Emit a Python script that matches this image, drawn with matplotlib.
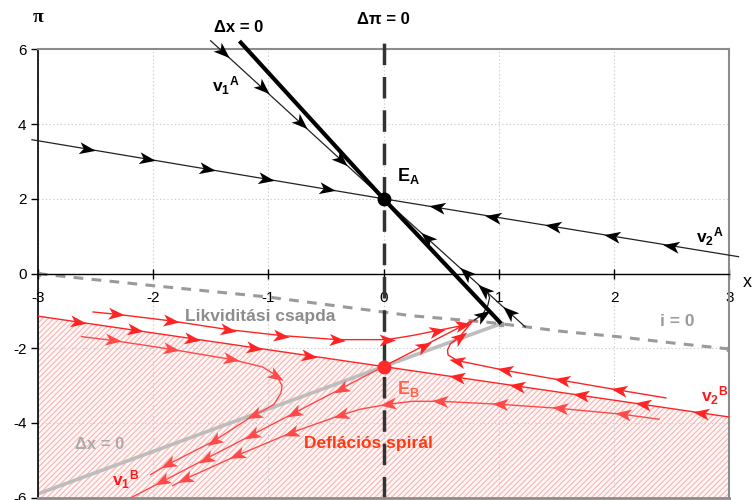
import numpy as np
import matplotlib
matplotlib.use("Agg")
import matplotlib.pyplot as plt
from matplotlib.path import Path
from matplotlib.markers import MarkerStyle
from matplotlib.transforms import Affine2D

plt.rcParams["font.family"] = ["Liberation Sans", "DejaVu Sans"]
plt.rcParams["mathtext.fontset"] = "custom"
plt.rcParams["mathtext.rm"] = "Liberation Sans"
plt.rcParams["mathtext.bf"] = "Liberation Sans:bold"
plt.rcParams["mathtext.it"] = "Liberation Sans:italic"
plt.rcParams["lines.scale_dashes"] = False
plt.rcParams["axes.unicode_minus"] = False
plt.rcParams["hatch.linewidth"] = 0.8

# ---- axes ----
x_ticks = [-3, -2, -1, 0, 1, 2, 3]
y_ticks = [-6, -4, -2, 0, 2, 4, 6]

# ---- equilibria ----
EA = (0.0, 2.0)
EB = (0.0, -2.49)

# ---- regime A (normal) ----
dxA_x = [-1.25, 0.0, 1.02]          # Δx = 0 isocline
dxA_y = [6.22, 2.0, -1.34]

v1A_up_x = [-1.50, 0.0]             # stable eigenvector, upper half
v1A_up_y = [6.23, 2.0]
v1A_up_arrows = [(-1.40, 5.92), (-1.05, 4.94), (-0.72, 4.02), (-0.37, 3.04)]
v1A_lo_x = [1.23, 0.0]              # stable eigenvector, lower half
v1A_lo_y = [-1.43, 2.0]
v1A_lo_arrows = [(1.09, -1.02), (0.87, -0.44), (0.71, 0.0), (0.375, 0.96)]

v2A_l_x = [-3.05, 0.0]
v2A_l_y = [3.58, 2.0]
v2A_l_arrows = [(-2.57, 3.34), (-2.05, 3.07), (-1.53, 2.80), (-1.02, 2.53), (-0.49, 2.26)]
v2A_r_x = [3.08, 0.0]
v2A_r_y = [0.45, 2.0]
v2A_r_arrows = [(0.46, 1.77), (0.95, 1.52), (1.47, 1.26), (1.98, 1.00), (2.49, 0.75)]

# trajectory crossing from the trap back into regime A
link_x = [0.79, 0.86, 0.905, 0.92, 0.905, 0.88]
link_y = [-1.24, -1.10, -0.85, -0.65, -0.52, -0.45]
link_arrows = [(0.86, -1.10)]

# ---- i = 0 boundary (liquidity trap) ----
i0_x = [-3.0, -2.86, -2.05, -1.0, -0.10, 0.24, 0.89, 1.22, 1.55, 2.03, 2.51, 3.0]
i0_y = [0.0, -0.05, -0.31, -0.63, -0.99, -1.13, -1.30, -1.42, -1.55, -1.69, -1.86, -2.02]

# ---- regime B (liquidity trap) ----
dxB_x = [-3.0, 0.0, 1.02]
dxB_y = [-5.90, -2.49, -1.34]

v2B_l_x = [-3.0, 0.0]
v2B_l_y = [-1.14, -2.49]
v2B_l_arrows = [(-2.65, -1.30), (-2.16, -1.52), (-1.66, -1.75), (-1.12, -1.99), (-0.645, -2.20)]
v2B_r_x = [3.02, 0.0]
v2B_r_y = [-3.85, -2.49]
v2B_r_arrows = [(0.64, -2.78), (1.16, -3.01), (1.71, -3.26), (2.25, -3.51), (2.75, -3.73)]

v1B_lo_x = [0.0, -2.19]
v1B_lo_y = [-2.49, -6.0]
v1B_lo_arrows = [(-0.37, -3.08), (-0.775, -3.73), (-1.14, -4.31), (-1.54, -4.95), (-1.92, -5.56)]
v1B_up_x = [0.0, 0.76]
v1B_up_y = [-2.49, -1.28]
v1B_up_arrows = [(0.35, -1.93)]

trajA_x = [-2.52, -2.32, -1.84, -1.35, -0.89, -0.40, 0.03, 0.25, 0.46, 0.69, 0.80]
trajA_y = [-1.03, -1.09, -1.27, -1.50, -1.66, -1.77, -1.77, -1.66, -1.53, -1.39, -1.24]
trajA_arrows = [(-2.32, -1.09), (-1.84, -1.27), (-1.35, -1.50), (-0.89, -1.66),
                (-0.40, -1.77), (0.03, -1.77), (0.46, -1.53), (0.69, -1.39)]

trajB_x = [-2.62, -2.35, -1.84, -1.32, -1.05, -0.93, -0.88, -0.89, -0.95, -1.05, -1.12, -1.47, -1.87, -2.02]
trajB_y = [-1.69, -1.79, -2.03, -2.30, -2.50, -2.73, -3.00, -3.20, -3.50, -3.68, -3.78, -4.48, -5.11, -5.38]
trajB_arrows = [(-2.35, -1.79), (-1.84, -2.03), (-1.32, -2.30), (-0.93, -2.73),
                (-1.12, -3.78), (-1.47, -4.48), (-1.87, -5.11)]

trajE_x = [2.45, 2.04, 1.55, 1.05, 0.64, 0.56, 0.555, 0.58, 0.66, 0.77]
trajE_y = [-3.33, -3.12, -2.86, -2.59, -2.33, -2.18, -2.05, -1.88, -1.70, -1.28]
trajE_arrows = [(2.04, -3.12), (1.55, -2.86), (1.05, -2.59), (0.64, -2.33), (0.66, -1.70)]

trajF_x = [2.39, 2.08, 1.53, 1.01, 0.49, 0.25, 0.04, -0.20, -0.37, -0.80, -1.27, -1.72, -1.83]
trajF_y = [-3.90, -3.77, -3.61, -3.50, -3.42, -3.42, -3.50, -3.63, -3.79, -4.26, -4.87, -5.50, -5.68]
trajF_arrows = [(2.08, -3.77), (1.53, -3.61), (1.01, -3.50), (0.49, -3.42), (0.04, -3.50),
                (-0.37, -3.79), (-0.80, -4.26), (-1.27, -4.87), (-1.72, -5.50)]

BLACK = "#000000"
RED = "#ff2424"
RED_SOFT = "#ff4a4a"

fig = plt.figure(figsize=(7.56, 5.0), dpi=100)
ax = fig.add_axes([0.0499, 0.0046, 0.9148, 0.8968])
ax.set_xlim(-3, 3)
ax.set_ylim(-6, 6)
ax.set_xticks(x_ticks)
ax.set_yticks(y_ticks)
ax.set_xticklabels([str(v) for v in x_ticks])
ax.set_yticklabels([str(v) for v in y_ticks])
ax.grid(True, color="#cfcfcf", ls=":", lw=0.8, zorder=0.6)
ax.set_axisbelow(True)

for s in ("top", "right"):
    ax.spines[s].set_color("#8c8c8c")
    ax.spines[s].set_linewidth(1.5)
ax.spines["left"].set_color("black")
ax.spines["left"].set_linewidth(1.2)
ax.spines["bottom"].set_position(("data", 0))
ax.spines["bottom"].set_color("black")
ax.spines["bottom"].set_linewidth(1.0)
ax.axhline(-6, color="#8c8c8c", lw=2.0, clip_on=False, zorder=5)

ax.tick_params(axis="x", direction="inout", length=7, width=1, pad=9, labelsize=11)
ax.tick_params(axis="y", direction="out", length=5, width=1, pad=3, labelsize=11)

# hatched deflation region under v2^B
hx = v2B_l_x + v2B_r_x[::-1][1:]
hy = v2B_l_y + v2B_r_y[::-1][1:]
ax.fill_between(hx, hy, -6, facecolor="#fff6f6", edgecolor="#f8b4b4",
                hatch="//////", linewidth=0, zorder=0.5)

STEALTH = Path([(1.0, 0.0), (-0.95, 0.72), (-0.45, 0.0), (-0.95, -0.72), (1.0, 0.0)],
               [Path.MOVETO, Path.LINETO, Path.LINETO, Path.LINETO, Path.CLOSEPOLY])


def arrows(xs, ys, pts, color, size=12, z=6):
    disp = ax.transData.transform(np.column_stack([xs, ys]))
    inv = ax.transData.inverted()
    for p in pts:
        q = ax.transData.transform(p)
        best = None
        for i in range(len(disp) - 1):
            a, b = disp[i], disp[i + 1]
            ab = b - a
            t = np.clip(np.dot(q - a, ab) / np.dot(ab, ab), 0, 1)
            proj = a + t * ab
            d = np.hypot(*(q - proj))
            if best is None or d < best[0]:
                best = (d, proj, ab)
        _, proj, ab = best
        ang = np.degrees(np.arctan2(ab[1], ab[0]))
        x0, y0 = inv.transform(proj)
        m = MarkerStyle(STEALTH, transform=Affine2D().rotate_deg(ang))
        ax.plot([x0], [y0], marker=m, ms=size, color=color, mew=0, ls="none",
                zorder=z, clip_on=False)


# gray regime-B isocline and i = 0 boundary
ax.plot(dxB_x, dxB_y, color="#bdbdbd", lw=2.6, solid_capstyle="butt", zorder=2)
ax.plot(i0_x, i0_y, color="#9a9a9a", lw=2.2, dashes=(7, 6), zorder=2)
ax.plot([i0_x[0], i0_x[-1], dxB_x[-1]], [i0_y[0], i0_y[-1], dxB_y[-1]], ls="none",
        marker="s", ms=3.5, color="#9a9a9a", zorder=2)

# red trajectories
for xs, ys, pts, col in [
    (v2B_l_x, v2B_l_y, v2B_l_arrows, RED),
    (v2B_r_x, v2B_r_y, v2B_r_arrows, RED),
    (v1B_lo_x, v1B_lo_y, v1B_lo_arrows, RED_SOFT),
    (v1B_up_x, v1B_up_y, v1B_up_arrows, RED),
    (trajA_x, trajA_y, trajA_arrows, RED),
    (trajB_x, trajB_y, trajB_arrows, RED_SOFT),
    (trajE_x, trajE_y, trajE_arrows, RED),
    (trajF_x, trajF_y, trajF_arrows, RED_SOFT),
]:
    ax.plot(xs, ys, color=col, lw=1.0, zorder=3)
    arrows(xs, ys, pts, col)

# Δπ = 0 isocline
ax.plot([0, 0], [-6, 6.36], color="#333333", lw=2.5, dashes=(15.5, 8.5),
        clip_on=False, zorder=4)

# black trajectories of regime A
for xs, ys, pts in [
    (v1A_up_x, v1A_up_y, v1A_up_arrows),
    (v1A_lo_x, v1A_lo_y, v1A_lo_arrows),
    (v2A_l_x, v2A_l_y, v2A_l_arrows),
    (v2A_r_x, v2A_r_y, v2A_r_arrows),
    (link_x, link_y, link_arrows),
]:
    ax.plot(xs, ys, color="#222222", lw=0.9, clip_on=False, zorder=4)
    arrows(xs, ys, pts, BLACK)

ax.plot(dxA_x, dxA_y, color="black", lw=3.0, solid_capstyle="butt",
        clip_on=False, zorder=5)

# equilibria
ax.plot(*EA, marker="o", ms=9, color="black", zorder=7)
ax.plot(*EB, marker="o", ms=9, color="#ff2a2a", zorder=7)

# labels
ax.text(-3.0, 6.86, "π", family="Liberation Serif", fontsize=14, weight="bold",
        ha="center", va="center")
ax.text(3.12, -0.25, "x", fontsize=13, ha="left", va="center", clip_on=False)
ax.text(-1.26, 6.59, "Δx = 0", fontsize=12, weight="bold", ha="center", va="center")
ax.text(0.0, 6.81, "Δπ = 0", fontsize=12, weight="bold", ha="center", va="center")
ax.text(-1.37, 5.03, r"$\mathbf{v}_\mathbf{1}{}^\mathbf{A}$", fontsize=12.5, ha="center", va="center")
ax.text(0.12, 2.62, r"$\mathbf{E}_\mathbf{A}$", fontsize=13, ha="left", va="center")
ax.text(2.83, 0.98, r"$\mathbf{v}_\mathbf{2}{}^\mathbf{A}$", fontsize=12.5, ha="center", va="center")
ax.text(-1.07, -1.15, "Likviditási csapda", fontsize=12.5, weight="bold",
        color="#8c8c8c", ha="center", va="center")
ax.text(2.545, -1.28, "i = 0", fontsize=12.5, weight="bold", color="#9a9a9a",
        ha="center", va="center")
ax.text(0.115, -3.10, r"$\mathbf{E}_\mathbf{B}$", fontsize=13, color="#ff6347",
        ha="left", va="center")
ax.text(-2.46, -4.58, "Δx = 0", fontsize=12, weight="bold", color="#ababab",
        ha="center", va="center")
ax.text(-0.127, -4.56, "Deflációs spirál", fontsize=12.5, weight="bold",
        color="#ff3a12", ha="center", va="center")
ax.text(2.87, -3.27, r"$\mathbf{v}_\mathbf{2}{}^\mathbf{B}$", fontsize=12.5, color="#ff1a1a",
        ha="center", va="center")
ax.text(-2.24, -5.53, r"$\mathbf{v}_\mathbf{1}{}^\mathbf{B}$", fontsize=12.5, color="#ff1a1a",
        ha="center", va="center")

fig.savefig("out.png", dpi=100)
